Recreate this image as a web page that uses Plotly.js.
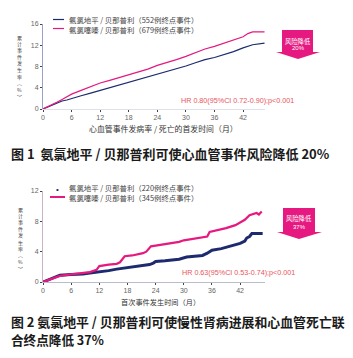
<!DOCTYPE html>
<html><head><meta charset="utf-8">
<script src="https://cdn.plot.ly/plotly-3.0.1.min.js"></script>
<style>html,body{margin:0;padding:0;background:#fff;}#c{width:353px;height:358px;}</style>
</head><body><div id="c"></div>
<script>
// ---- Data ----
const xTicks = [0, 6, 12, 18, 24, 30, 36, 42];
const yTicks1 = [0, 4, 8, 12, 16];
const yTicks2 = [0, 4, 8, 12];

const months1Blue = [0,1,2,3,4,5,6,8,10,12,14,16,18,20,22,24,26,28,30,32,34,36,38,40,42,44,46.5];
const fig1Blue    = [0,0.4,0.8,1.2,1.5,1.7,2.0,2.5,3.0,3.5,4.0,4.5,5.1,5.6,6.0,6.6,7.0,7.6,8.1,8.7,9.3,9.7,10.2,10.8,11.5,12.1,12.4];
const months1Pink = [0,1,2,3,4,5,6,8,10,12,14,16,18,20,22,24,26,28,30,32,34,36,38,40,42,43,44,46.5];
const fig1Pink    = [0,0.4,0.8,1.3,1.8,2.3,2.8,3.5,4.2,4.9,5.4,5.9,6.5,7.0,7.5,8.2,8.7,9.3,9.9,10.6,11.3,11.8,12.4,13.0,13.6,14.2,14.5,14.5];

const months2Blue = [0,2,3.6,6,8.5,10,12,14,15.7,17,19,21,22.7,23.5,24,26,29,30.6,32,34,35,36,38,40,41,42,43,43.4,44,44.5,46.8];
const fig2Blue    = [0,0.5,0.9,1.0,1.05,1.2,1.3,1.5,1.7,1.8,2.0,2.1,2.3,2.5,2.7,2.8,3.0,3.3,3.4,3.5,3.8,4.2,4.4,4.7,4.9,5.1,5.4,5.8,6.0,6.4,6.4];
const months2Pink = [0,2,3.6,6,8.5,10,11.4,12,14,15.7,16.4,17,17.4,19,21.3,22,23,24,26,29,30,32,34,35,35.5,37,39,41,42,43,44,45,45.5,46,46.6];
const fig2Pink    = [0,0.4,0.8,1.0,1.2,1.3,1.6,2.1,2.3,2.4,2.6,3.1,3.4,3.5,3.8,4.0,4.7,4.8,5.0,5.3,5.5,5.7,5.9,6.0,6.6,6.8,7.1,7.5,7.8,8.2,8.8,9.0,9.1,8.9,9.3];

const legend1 = ['氨氯地平 / 贝那普利（552例终点事件）', '氨氯噻嗪 / 贝那普利（679例终点事件）'];
const legend2 = ['氨氯地平 / 贝那普利（220例终点事件）', '氨氯噻嗪 / 贝那普利（345例终点事件）'];
const yTitleChars = ['累','计','事','件','发','生','率','︵','%','︶'];
const xTitle1 = '心血管事件发病率 / 死亡的首发时间（月）';
const xTitle2 = '首次事件发生时间（月）';
const hr1 = 'HR 0.80(95%CI 0.72-0.90);p<0.001';
const hr2 = 'HR 0.63(95%CI 0.53-0.74);p<0.001';
const badge1 = ['风险降低', '20%'];
const badge2 = ['风险降低', '37%'];
const caption1 = '图 1  氨氯地平 / 贝那普利可使心血管事件风险降低 20%';
const caption2a = '图 2 氨氯地平 / 贝那普利可使慢性肾病进展和心血管死亡联';
const caption2b = '合终点降低 37%';

// ---- Layout helpers ----
const W = 353, H = 358;
const px = x => x / W, py = y => 1 - y / H;
const NAVY = '#1d2a6e', PINK = '#e5197f', HRC = '#e8545c';
const CJK = '"Noto Sans CJK SC", "Noto Sans", sans-serif';
const LAT = '"Liberation Sans", Arial, sans-serif';

const traces = [
  {x: months1Blue, y: fig1Blue, xaxis:'x', yaxis:'y', mode:'lines', line:{color:NAVY, width:1.2}, showlegend:false},
  {x: months1Pink, y: fig1Pink, xaxis:'x', yaxis:'y', mode:'lines', line:{color:PINK, width:1.2}, showlegend:false},
  {x: months2Blue, y: fig2Blue, xaxis:'x2', yaxis:'y2', mode:'lines', line:{color:NAVY, width:3}, showlegend:false},
  {x: months2Pink, y: fig2Pink, xaxis:'x2', yaxis:'y2', mode:'lines', line:{color:PINK, width:2.2}, showlegend:false}
];

const axBase = {
  showgrid:false, zeroline:false, showline:true, linewidth:1,
  ticks:'outside', ticklen:2, tickwidth:1,
  tickfont:{family:LAT, size:7, color:'#666'}, fixedrange:true
};

// stacked y-title characters: start position (px) and step
const yTitleStart1 = 37, yTitleStart2 = 209, yTitleStep = 6.6;

const annotations = [
  // legends
  {text: legend1.join('<br>'), x:px(68), y:py(24), xanchor:'left', yanchor:'middle', align:'left', borderpad:0},
  {text: '•', x:px(57), y:py(189), xanchor:'center', yanchor:'middle', font:{family:LAT,size:8,color:NAVY}},
  {text: legend2.join('<br>'), x:px(68), y:py(192), xanchor:'left', yanchor:'middle', align:'left', borderpad:0},
  // x titles
  {text: xTitle1, x:px(163), y:py(128), xanchor:'center', yanchor:'middle', font:{family:CJK,size:7.9,color:'#333'}},
  {text: xTitle2, x:px(160), y:py(302), xanchor:'center', yanchor:'middle', font:{family:CJK,size:7.2,color:'#333'}},
  // HR texts
  {text: hr1, x:px(237), y:py(100), xanchor:'center', yanchor:'middle', font:{family:LAT,size:7.2,color:HRC}},
  {text: hr2, x:px(238), y:py(272), xanchor:'center', yanchor:'middle', font:{family:LAT,size:7.2,color:HRC}},
  // badges
  {text: badge1[0], x:px(298), y:py(41), xanchor:'center', yanchor:'middle', font:{family:CJK,size:6.3,color:'#fff'}},
  {text: badge1[1], x:px(298), y:py(48.5), xanchor:'center', yanchor:'middle', font:{family:LAT,size:6,color:'#fff'}},
  {text: badge2[0], x:px(299), y:py(218), xanchor:'center', yanchor:'middle', font:{family:CJK,size:6.3,color:'#fff'}},
  {text: badge2[1], x:px(299), y:py(227), xanchor:'center', yanchor:'middle', font:{family:LAT,size:6,color:'#fff'}},
  // captions
  {text: caption1, x:px(9), y:py(153), xanchor:'left', yanchor:'middle', font:{family:CJK,size:13,color:'#1a1a1a',weight:'bold'}},
  {text: caption2a, x:px(9), y:py(321), xanchor:'left', yanchor:'middle', font:{family:CJK,size:12.9,color:'#1a1a1a',weight:'bold'}},
  {text: caption2b, x:px(9), y:py(339), xanchor:'left', yanchor:'middle', font:{family:CJK,size:12.6,color:'#1a1a1a',weight:'bold'}}
];
yTitleChars.forEach((ch, i) => {
  annotations.push({text: ch, x:px(19), y:py(yTitleStart1 + i*yTitleStep), xanchor:'center', yanchor:'middle', borderpad:0, font:{family:CJK,size:5,color:'#444'}});
  annotations.push({text: ch, x:px(20), y:py(yTitleStart2 + i*yTitleStep), xanchor:'center', yanchor:'middle', borderpad:0, font:{family:CJK,size:5,color:'#444'}});
});
const anns = annotations.map(a => Object.assign({xref:'paper', yref:'paper', showarrow:false,
  font:{family:CJK, size:7.4, color:'#444'}}, a));

function badgePath(x0, x1, y0, y1, ax0, ax1, tipX, tipY){
  return `M${px(x0)},${py(y0)} L${px(x1)},${py(y0)} L${px(x1)},${py(y1)} L${px(ax1)},${py(y1)} L${px(tipX)},${py(tipY)} L${px(ax0)},${py(y1)} L${px(x0)},${py(y1)} Z`;
}

const shapes = [
  {type:'line', xref:'paper', yref:'paper', x0:px(53), x1:px(64), y0:py(19.5), y1:py(19.5), line:{color:NAVY, width:1.2}},
  {type:'line', xref:'paper', yref:'paper', x0:px(53), x1:px(64), y0:py(28.5), y1:py(28.5), line:{color:PINK, width:1.2}},
  {type:'line', xref:'paper', yref:'paper', x0:px(50), x1:px(65), y0:py(197), y1:py(197), line:{color:PINK, width:2}},
  {type:'path', xref:'paper', yref:'paper', path: badgePath(282,313,30,52,276,320,298,59), fillcolor:'#e5197f', line:{width:0}},
  {type:'path', xref:'paper', yref:'paper', path: badgePath(283,315,208,232,277,322,299,239), fillcolor:'#e5197f', line:{width:0}}
];

const layout = {
  width:W, height:H, margin:{l:0,r:0,t:0,b:0},
  paper_bgcolor:'#fff', plot_bgcolor:'rgba(0,0,0,0)', showlegend:false,
  xaxis: Object.assign({}, axBase, {domain:[px(43), px(265)], range:[0,46.6], tickvals:xTicks, anchor:'y', linecolor:'#dfe1ea'}),
  yaxis: Object.assign({}, axBase, {domain:[py(109), py(24)], range:[0,16], tickvals:yTicks1, anchor:'x', linecolor:'#9aa3c6'}),
  xaxis2: Object.assign({}, axBase, {domain:[px(43), px(265)], range:[0,47.3], tickvals:xTicks, anchor:'y2', linecolor:'#b8bccb'}),
  yaxis2: Object.assign({}, axBase, {domain:[py(282), py(191)], range:[0,12], tickvals:yTicks2, anchor:'x2', linecolor:'#c9b3c4'}),
  annotations: anns, shapes
};

Plotly.newPlot('c', traces, layout, {staticPlot:true, displayModeBar:false});
</script></body></html>
